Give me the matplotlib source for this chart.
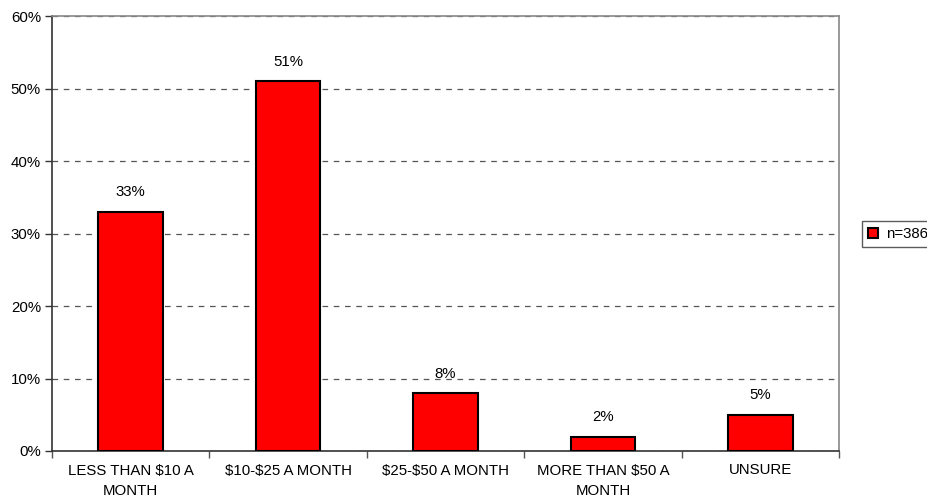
import matplotlib
matplotlib.use("Agg")
import matplotlib.pyplot as plt
from matplotlib.ticker import FuncFormatter, FixedLocator

plt.rcParams['font.family'] = ['Liberation Sans', 'DejaVu Sans']
plt.rcParams['text.parse_math'] = False

categories = ['LESS THAN $10 A\nMONTH', '$10-$25 A MONTH', '$25-$50 A MONTH',
              'MORE THAN $50 A\nMONTH', 'UNSURE']
values = [33, 51, 8, 2, 5]
series_name = 'n=386'

fs = 10.8

fig = plt.figure(figsize=(9.28, 5.01), dpi=100)
ax = fig.add_axes([52 / 928, 1 - 451 / 501, (839 - 52) / 928, (451 - 16) / 501])

x = list(range(len(values)))
ax.bar(x, values, width=0.41, color='#ff0000', edgecolor='black', linewidth=1.5,
       label=series_name, zorder=3)

for xi, v in zip(x, values):
    ax.annotate(f'{v}%', (xi, v), xytext=(0, 9), textcoords='offset points',
                ha='center', va='bottom', fontsize=fs)

ax.set_xlim(-0.5, len(values) - 0.5)
ax.set_ylim(0, 60)
ax.set_yticks(range(0, 61, 10))
ax.yaxis.set_major_formatter(FuncFormatter(lambda v, p: f'{int(v)}%'))
ax.grid(axis='y', color='#555555', linestyle=(0, (4.5, 4.5)), linewidth=0.9, zorder=0)

ax.set_xticks(x)
ax.set_xticklabels(categories, fontsize=fs, linespacing=1.6)
ax.tick_params(axis='x', length=0, pad=9)
ax.xaxis.set_minor_locator(FixedLocator([i + 0.5 for i in range(-1, len(values))]))
ax.tick_params(axis='x', which='minor', length=5, color='#555555', width=1)
ax.tick_params(axis='y', labelsize=fs, length=5, color='#333333', width=1, pad=3)

for side in ['top', 'right']:
    ax.spines[side].set_color('#888888')
    ax.spines[side].set_linewidth(1.2)
ax.spines['left'].set_color('#333333')
ax.spines['bottom'].set_color('#333333')
ax.spines['left'].set_linewidth(1.2)
ax.spines['bottom'].set_linewidth(1.2)

leg = fig.legend(loc='lower left', bbox_to_anchor=(862 / 928, 1 - 247 / 501),
                 fontsize=fs, frameon=True, fancybox=False, handlelength=0.7,
                 handleheight=0.7, handletextpad=0.5, borderpad=0.4, borderaxespad=0)
leg.get_frame().set_edgecolor('#333333')
leg.get_frame().set_linewidth(1)

fig.savefig('out.png', dpi=100)
